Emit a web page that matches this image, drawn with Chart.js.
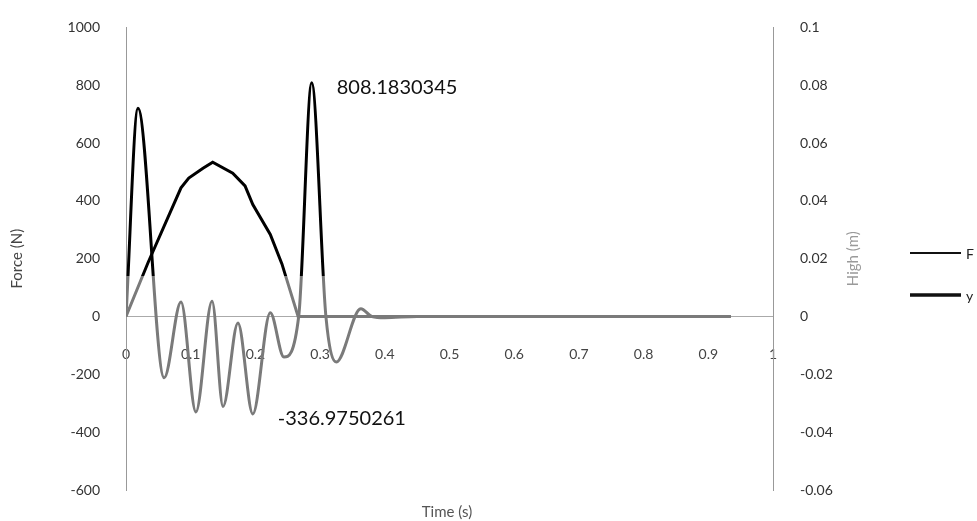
<!DOCTYPE html>
<html>
<head>
<meta charset="utf-8">
<script src="https://cdn.jsdelivr.net/npm/chart.js@4/dist/chart.umd.min.js"></script>
<style>
  html, body { margin: 0; padding: 0; background: #fff; }
  #wrap { position: relative; width: 977px; height: 521px; }
</style>
</head>
<body>
<div id="wrap"><canvas id="forceChart"></canvas></div>
<script>
// F series (left axis, N)
const fTime = [0, 0.0185, 0.059, 0.085, 0.108, 0.133, 0.150, 0.173, 0.196, 0.223, 0.244, 0.267, 0.287, 0.309, 0.325, 0.363, 0.38, 0.40, 0.45, 0.935];
const fValues = [0, 720, -212, 50, -330, 53, -311, -22, -336.9750261, 13, -140, 2, 808.1830345, 0, -157, 27, 0, -4, 0, 0];

// y series (right axis, m)
const yTime = [0, 0.034, 0.085, 0.097, 0.119, 0.134, 0.165, 0.184, 0.196, 0.223, 0.241, 0.266, 0.30, 0.935];
const yValues = [0, 0.0186, 0.0445, 0.0479, 0.0513, 0.0534, 0.0496, 0.0452, 0.0387, 0.0284, 0.0182, 0, 0, 0];

const seriesNames = ['F', 'y'];
const xTicks = [0, 1, 0.1];          // min, max, step
const forceTicks = [-600, 1000, 200];
const highTicks = [-0.06, 0.1, 0.02];

const fontFam = 'Lato, "Open Sans", sans-serif';

function toPoints(xs, ys) {
    return xs.map((x, i) => ({ x: x, y: ys[i] }));
}

function fmt(v) {
    return String(Number(v.toFixed(2)));
}

// scanned look: lines are black high up, grey lower down
function splitColor(context) {
    const chart = context.chart;
    const area = chart.chartArea;
    if (!area) return '#000';
    const yPix = chart.scales.y.getPixelForValue(140);
    let t = (yPix - area.top) / (area.bottom - area.top);
    t = Math.min(Math.max(t, 0), 1);
    const g = chart.ctx.createLinearGradient(0, area.top, 0, area.bottom);
    g.addColorStop(0, '#000');
    g.addColorStop(t, '#000');
    g.addColorStop(t, '#7a7a7a');
    g.addColorStop(1, '#7a7a7a');
    return g;
}

const extras = {
    id: 'extras',
    afterDraw(chart) {
        const c = chart.ctx;
        const area = chart.chartArea;
        c.save();

        // data labels on max / min of F
        const meta = chart.getDatasetMeta(0);
        let iMax = 0, iMin = 0;
        fValues.forEach((v, i) => {
            if (v > fValues[iMax]) iMax = i;
            if (v < fValues[iMin]) iMin = i;
        });
        c.font = '20px ' + fontFam;
        c.fillStyle = '#111';
        c.textBaseline = 'middle';
        c.textAlign = 'left';
        [iMax, iMin].forEach(i => {
            const p = meta.data[i];
            c.fillText(String(fValues[i]), p.x + 25, p.y + 5);
        });

        // x axis title
        c.font = '15px ' + fontFam;
        c.fillStyle = '#555';
        c.textAlign = 'center';
        c.fillText('Time (s)', 447, 512);

        // right axis title, reads bottom-to-top
        c.save();
        c.translate(853, (area.top + area.bottom) / 2);
        c.rotate(-Math.PI / 2);
        c.fillStyle = '#9a9a9a';
        c.fillText('High (m)', 0, 0);
        c.restore();

        // legend
        const legendY = [253, 295];
        const legendW = [2, 3.5];
        c.font = '14px ' + fontFam;
        c.fillStyle = '#222';
        c.textAlign = 'left';
        seriesNames.forEach((name, i) => {
            c.beginPath();
            c.lineWidth = legendW[i];
            c.strokeStyle = '#111';
            c.moveTo(910, legendY[i]);
            c.lineTo(961, legendY[i]);
            c.stroke();
            c.fillText(name, 966, legendY[i] + 1);
        });
        c.restore();
    }
};

const ctx = document.getElementById('forceChart').getContext('2d');

new Chart(ctx, {
    type: 'scatter',
    data: {
        datasets: [{
            label: seriesNames[0],
            data: toPoints(fTime, fValues),
            yAxisID: 'y',
            showLine: true,
            borderColor: splitColor,
            borderWidth: 3,
            pointRadius: 0,
            cubicInterpolationMode: 'monotone'
        }, {
            label: seriesNames[1],
            data: toPoints(yTime, yValues),
            yAxisID: 'y1',
            showLine: true,
            borderColor: splitColor,
            borderWidth: 3,
            pointRadius: 0,
            tension: 0
        }]
    },
    options: {
        responsive: true,
        maintainAspectRatio: false,
        animation: false,
        layout: { padding: { top: 20, bottom: 31, left: 0, right: 0 } },
        plugins: {
            legend: { display: false },
            tooltip: { enabled: false }
        },
        scales: {
            x: {
                type: 'linear',
                position: { y: 0 },
                min: xTicks[0],
                max: xTicks[1],
                grid: { display: false },
                border: { display: true, color: '#aaa', dash: [2, 5], width: 1 },
                ticks: {
                    stepSize: xTicks[2],
                    padding: 22,
                    color: '#444',
                    font: { family: fontFam, size: 14 },
                    callback: v => fmt(v)
                }
            },
            y: {
                position: 'left',
                min: forceTicks[0],
                max: forceTicks[1],
                grid: { display: false },
                border: { display: true, color: '#999', dash: [6, 2, 1, 2], width: 1 },
                title: {
                    display: true,
                    text: 'Force (N)',
                    color: '#444',
                    font: { family: fontFam, size: 15 },
                    padding: { top: 8, bottom: 0 }
                },
                ticks: {
                    stepSize: forceTicks[2],
                    padding: 18,
                    color: '#333',
                    font: { family: fontFam, size: 14 },
                    callback: v => fmt(v)
                },
                afterFit: scale => { scale.width = 126; }
            },
            y1: {
                position: 'right',
                min: highTicks[0],
                max: highTicks[1],
                grid: { display: false },
                border: { display: true, color: '#999', dash: [6, 2, 1, 2], width: 1 },
                ticks: {
                    stepSize: highTicks[2],
                    padding: 19,
                    color: '#333',
                    font: { family: fontFam, size: 14 },
                    callback: v => fmt(v)
                },
                afterFit: scale => { scale.width = 204; }
            }
        }
    },
    plugins: [extras]
});
</script>
</body>
</html>
